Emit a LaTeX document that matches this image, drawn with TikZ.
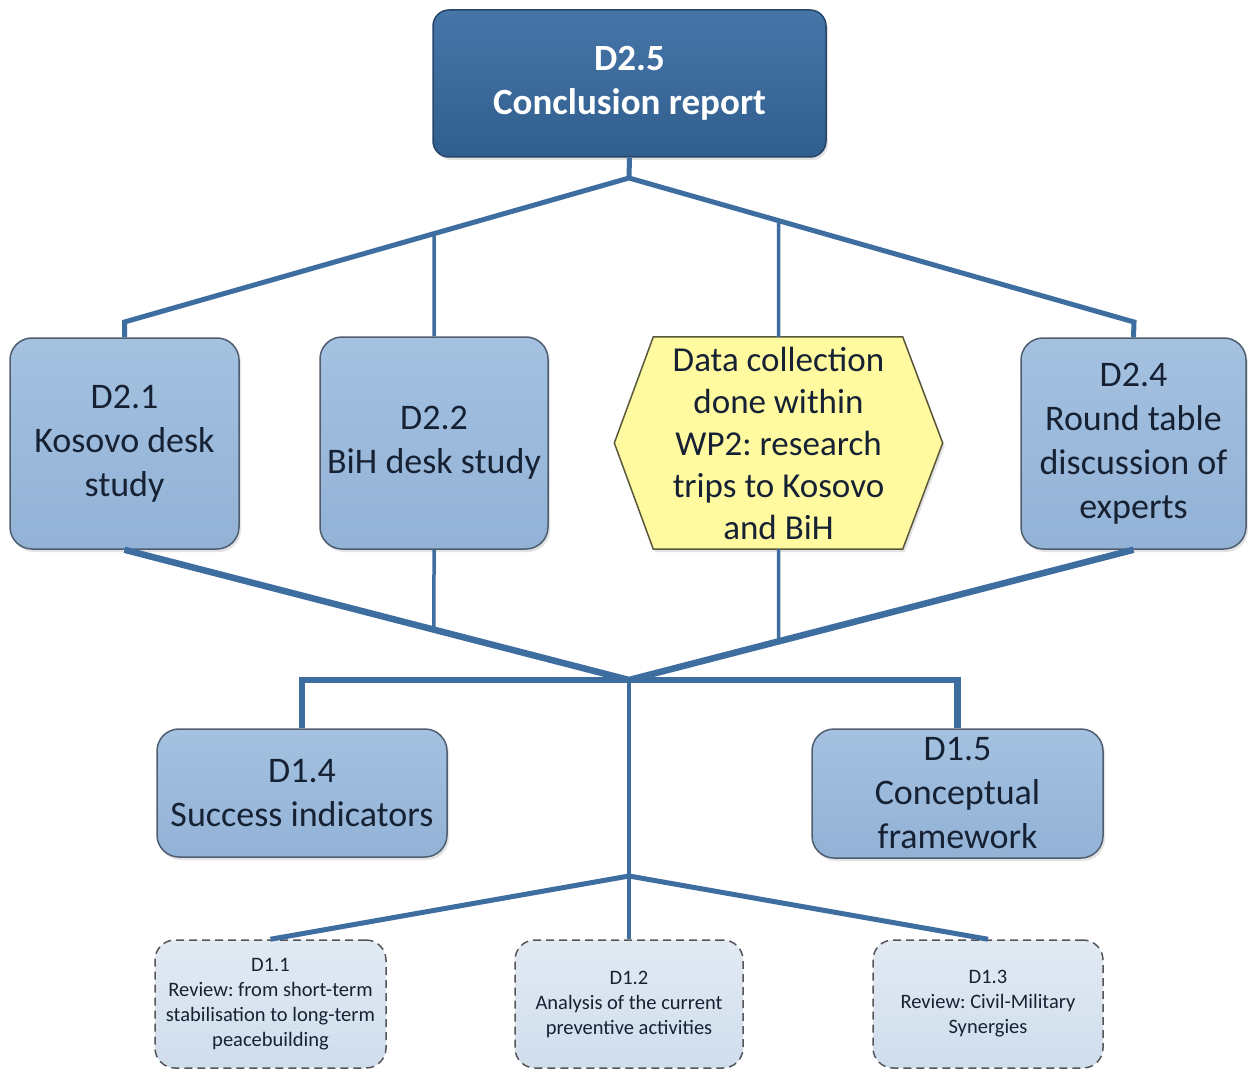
\documentclass[tikz,border=0pt]{standalone}
\usepackage{fontspec}
\setmainfont{Carlito}
\frenchspacing
\usetikzlibrary{shadows,calc}
\definecolor{lineblue}{RGB}{62,110,160}
\definecolor{topA}{RGB}{70,118,168}
\definecolor{topB}{RGB}{48,94,142}
\definecolor{topBorder}{RGB}{38,70,105}
\definecolor{midA}{RGB}{164,193,224}
\definecolor{midB}{RGB}{146,178,214}
\definecolor{midBorder}{RGB}{78,94,112}
\definecolor{hexFill}{RGB}{255,249,160}
\definecolor{hexBorder}{RGB}{90,88,60}
\definecolor{lowA}{RGB}{226,234,243}
\definecolor{lowB}{RGB}{208,221,236}
\definecolor{lowBorder}{RGB}{85,85,90}
\definecolor{txt}{RGB}{22,34,52}
\tikzset{
  shad/.style={drop shadow={shadow xshift=2pt,shadow yshift=-3pt,opacity=0.22}},
  topbox/.style={rectangle,rounded corners=16pt,draw=topBorder,line width=1.5pt,
    top color=topA,bottom color=topB,shad,text=white,align=center,inner sep=0pt,
    font=\fontsize{37}{44}\selectfont\bfseries},
  midbox/.style={rectangle,rounded corners=22pt,draw=midBorder,line width=1.5pt,
    top color=midA,bottom color=midB,shad,text=txt,align=center,inner sep=0pt,
    font=\fontsize{36}{44}\selectfont},
  lowbox/.style={rectangle,rounded corners=20pt,draw=lowBorder,line width=1.5pt,
    dash pattern=on 8pt off 5pt,top color=lowA,bottom color=lowB,text=txt,
    align=center,inner sep=0pt,font=\fontsize{20.5}{25}\selectfont},
  hexlabel/.style={rectangle,inner sep=0pt,text=txt,align=center,
    font=\fontsize{35}{42}\selectfont},
  conn/.style={draw=lineblue,line width=5pt,line join=miter},
  connthin/.style={draw=lineblue,line width=3.5pt},
  connthick/.style={draw=lineblue,line width=6.5pt,line join=miter},
}
\begin{document}
\begin{tikzpicture}[x=1pt,y=-1pt]
\useasboundingbox (0,0) rectangle (1248,1070);
\fill[white] (0,0) rectangle (1248,1070);

% top
\node[topbox,minimum width=393pt,minimum height=147pt] (d25) at (629.5,83.5) {D2.5\\Conclusion report};

% row 2
\node[midbox,minimum width=229pt,minimum height=211pt] (d21) at (124.5,443.5) {D2.1\\Kosovo desk\\study};
\node[midbox,minimum width=228pt,minimum height=212pt] (d22) at (434,443) {D2.2\\BiH desk study};
\node[midbox,minimum width=225pt,minimum height=211pt] (d24) at (1133.5,443.5) {D2.4\\Round table\\discussion of\\experts};
% hexagon
\node[hexlabel,minimum width=328pt,minimum height=212pt] (hex) at (778.5,443) {};
\filldraw[fill=hexFill,draw=hexBorder,line width=1.5pt,shad]
  (hex.west) -- ([xshift=39pt]hex.north west) -- ([xshift=-40pt]hex.north east)
  -- (hex.east) -- ([xshift=-40pt]hex.south east) -- ([xshift=39pt]hex.south west) -- cycle;
\node[hexlabel] (hextext) at (hex.center) {Data collection\\done within\\WP2: research\\trips to Kosovo\\and BiH};

% row 3
\node[midbox,minimum width=290pt,minimum height=128pt] (d14) at (302,793) {D1.4\\Success indicators};
\node[midbox,minimum width=291pt,minimum height=129pt] (d15) at (957.5,793.5) {D1.5\\Conceptual\\framework};

% row 4
\node[lowbox,minimum width=231pt,minimum height=128pt] (d11) at (270.5,1004) {D1.1\\Review: from short-term\\stabilisation to long-term\\peacebuilding};
\node[lowbox,minimum width=228pt,minimum height=128pt] (d12) at (629,1004) {D1.2\\Analysis of the current\\preventive activities};
\node[lowbox,minimum width=230pt,minimum height=128pt] (d13) at (988,1004) {D1.3\\Review: Civil-Military\\Synergies};

% connectors top
\coordinate (j1) at (629,178);
\coordinate (k1) at (124.5,322);
\coordinate (k4) at (1134,322);
\draw[conn] (d25.south) -- (j1);
\draw[conn] (d21.north) -- (k1) -- (j1) -- (k4) -- (d24.north);
\draw[connthin] (d22.north) -- (intersection of j1--k1 and d22.north--d22.center);
\draw[connthin] (hex.north) -- (intersection of j1--k4 and hex.north--hex.center);

% connectors middle
\coordinate (j2) at (629,680);
\draw[connthick] (d21.south) -- (j2) -- (d24.south);
\draw[connthin] (d22.south) -- (intersection of d21.south--j2 and d22.south--d22.center);
\draw[connthin] (hex.south) -- (intersection of d24.south--j2 and hex.south--hex.center);
\draw[connthick] (d14.north) -- (d14.north |- j2) -- (d15.north |- j2) -- (d15.north);

% connectors bottom
\coordinate (j3) at (629,876);
\draw[connthin] (j2) -- (d12.north);
\draw[conn] (d11.north) -- (j3) -- (d13.north);
\end{tikzpicture}
\end{document}
